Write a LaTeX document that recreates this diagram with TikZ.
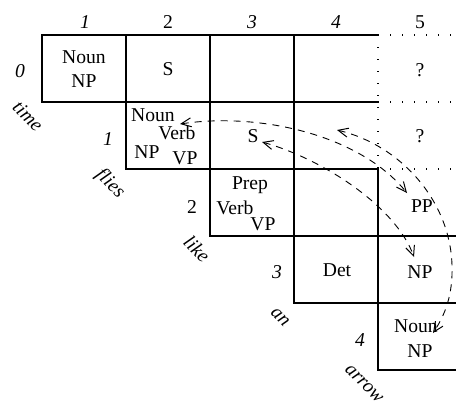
\documentclass[tikz,border=0pt]{standalone}
\usepackage{fontspec}
\setmainfont{Liberation Serif}
\usetikzlibrary{arrows.meta}
\begin{document}
\begin{tikzpicture}[x=0.5pt,y=-0.5pt,
  every node/.style={inner sep=0pt, font=\fontsize{9.8}{11}\selectfont},
  grid/.style={line width=0.65pt},
  open/.style={line width=0.7pt, dash pattern=on 0.7pt off 5.3pt},
  idx/.style={font=\fontsize{9.8}{11}\selectfont\itshape},
  word/.style={font=\fontsize{9.8}{11}\selectfont\itshape, rotate=-45},
  barb/.tip={Straight Barb[length=5pt,width=4.5pt,line width=0.5pt]},
  link/.style={line width=0.45pt, dash pattern=on 3.5pt off 3pt, barb-barb}]
\useasboundingbox (0,0) rectangle (456,403);

% chart cells (solid part)
\draw[grid] (378,35) -- (42,35) -- (42,102) -- (378,102);
\draw[grid] (126,35) -- (126,169) -- (378,169);
\draw[grid] (210,35) -- (210,236) -- (456,236);
\draw[grid] (294,35) -- (294,303) -- (456,303);
\draw[grid] (378,169) -- (378,370) -- (456,370);

% cells still to be filled (dotted)
\draw[open] (378,35) -- (378,169);
\draw[open] (378,35) -- (456,35);
\draw[open] (378,102) -- (456,102);
\draw[open] (378,169) -- (456,169);

% column indices
\node[idx] (c1) at (85,22) {1};
\node (c2) at (168,22) {2};
\node[idx] (c3) at (252,22) {3};
\node[idx] (c4) at (336,22) {4};
\node (c5) at (420,22) {5};

% row indices
\node[idx] (r0) at (20,71) {0};
\node[idx] (r1) at (108,139) {1};
\node (r2) at (192,207) {2};
\node[idx] (r3) at (277,272) {3};
\node[idx] (r4) at (360,340) {4};

% input words
\node[word] (w1) at (28,116) {time};
\node[word] (w2) at (110,184) {flies};
\node[word] (w3) at (197,249) {like};
\node[word] (w4) at (280,317) {an};
\node[word] (w5) at (364,384) {arrow};

% cell contents
\node (a1) at (84,57) {Noun};
\node (a2) at (84,81) {NP};
\node (b1) at (168,69) {S};
\node (q1) at (420,70) {?};
\node (d1) at (153,115) {Noun};
\node (d2) at (177,133) {Verb};
\node (d3) at (147,152) {NP};
\node (d4) at (185,158) {VP};
\node (e1) at (253,136) {S};
\node (q2) at (420,136) {?};
\node (f1) at (250,185) {Prep};
\node (f2) at (235,208) {Verb};
\node (f3) at (263,224) {VP};
\node (g1) at (422,206) {PP};
\node (h1) at (337,270) {Det};
\node (h2) at (420,272) {NP};
\node (k1) at (416,326) {Noun};
\node (k2) at (420,351) {NP};

% ends of the combination links
\coordinate (p1) at (180,124);
\coordinate (p2) at (407,193);
\coordinate (s1) at (262,142);
\coordinate (s2) at (414,257);
\coordinate (t1) at (337,130);
\coordinate (t2) at (433,333);

\draw[link] (p1) .. controls (260,112) and (360,135) .. (p2);
\draw[link] (s1) .. controls (320,158) and (395,205) .. (s2);
\draw[link] (t1) .. controls (400,145) and (450,200) .. (452,265)
                 .. controls (453,295) and (445,315) .. (t2);
\end{tikzpicture}
\end{document}
